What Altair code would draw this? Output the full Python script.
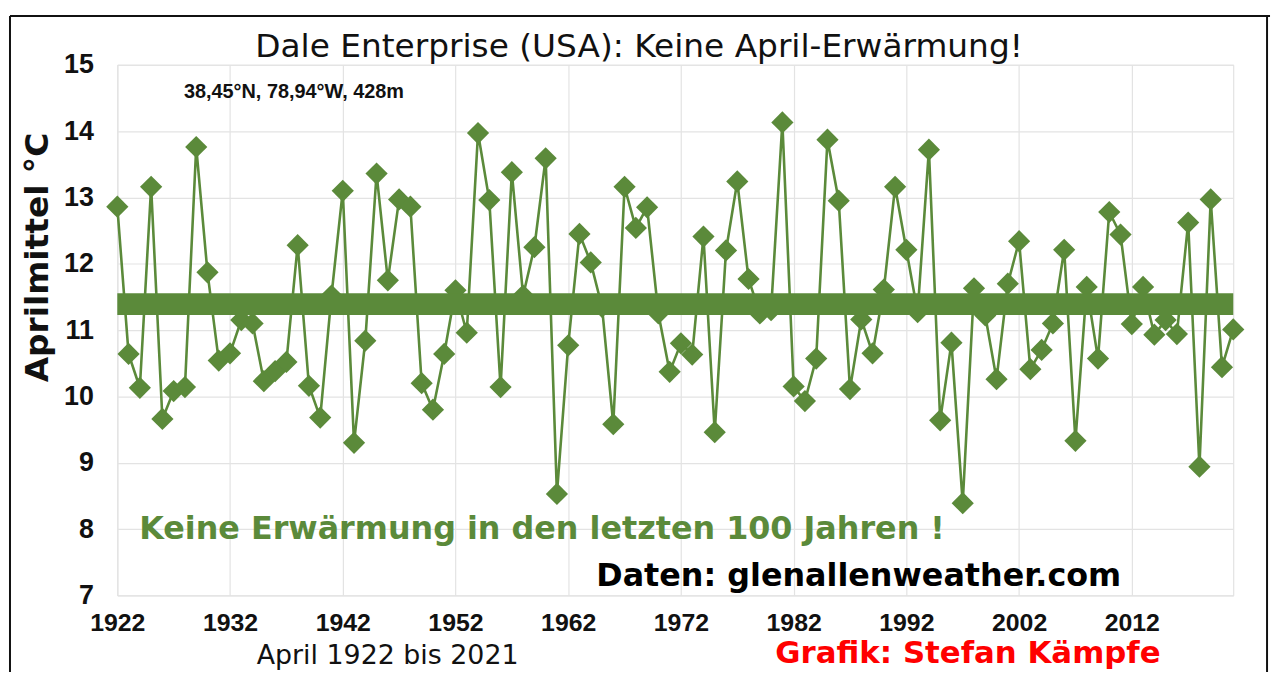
import altair as alt
import pandas as pd

years = list(range(1922, 2022))
temps = [
    12.86, 10.64, 10.13, 13.16, 9.66, 10.08, 10.14, 13.76, 11.87, 10.54,
    10.65, 11.15, 11.10, 10.23, 10.38, 10.52, 12.28, 10.16, 9.68, 11.52,
    13.10, 9.30, 10.84, 13.36, 11.75, 12.97, 12.86, 10.20, 9.80, 10.64,
    11.60, 10.96, 13.97, 12.96, 10.14, 13.38, 11.52, 12.25, 13.59, 8.53,
    10.77, 12.45, 12.02, 11.35, 9.58, 13.16, 12.54, 12.85, 11.25, 10.37,
    10.80, 10.63, 12.41, 9.46, 12.20, 13.24, 11.77, 11.25, 11.30, 14.13,
    10.15, 9.93, 10.57, 13.87, 12.95, 10.11, 11.16, 10.65, 11.61, 13.16,
    12.21, 11.27, 13.72, 9.64, 10.81, 8.39, 11.63, 11.22, 10.26, 11.70,
    12.34, 10.41, 10.70, 11.10, 12.21, 9.33, 11.65, 10.57, 12.78, 12.44,
    11.09, 11.65, 10.93, 11.15, 10.94, 12.62, 8.94, 12.97, 10.44, 11.01,
]
trend_years = [1922, 2021]
trend_vals = [11.39, 11.39]
x_ticks = [1922, 1932, 1942, 1952, 1962, 1972, 1982, 1992, 2002, 2012]
y_ticks = [7, 8, 9, 10, 11, 12, 13, 14, 15]

GREEN = "#5B8A3A"
FONT = "Liberation Sans"
WIDE = "DejaVu Sans"

df = pd.DataFrame({"year": years, "temp": temps})
tdf = pd.DataFrame({"year": trend_years, "temp": trend_vals})

xs = alt.Scale(domain=[1922, 2021], nice=False, zero=False)
ys = alt.Scale(domain=[7, 15], nice=False, zero=False)

xax = alt.Axis(values=x_ticks, format="d", title=None, labelFont=FONT, labelFontSize=25,
               labelFontWeight="bold", labelColor="#111", labelPadding=15, ticks=False,
               domain=False, grid=True, gridColor="#E3E3E3", gridWidth=1.2, labelFlush=False)
yax = alt.Axis(values=y_ticks, format="d", title=None, labelFont=FONT, labelFontSize=27,
               labelFontWeight="bold", labelColor="#111", labelPadding=24, ticks=False,
               domain=False, grid=True, gridColor="#E3E3E3", gridWidth=1.2)

line = alt.Chart(df).mark_line(color=GREEN, strokeWidth=2.6).encode(
    x=alt.X("year:Q", scale=xs, axis=xax),
    y=alt.Y("temp:Q", scale=ys, axis=yax),
)
pts = alt.Chart(df).mark_point(shape="diamond", filled=True, size=500, color=GREEN, opacity=1).encode(
    x=alt.X("year:Q", scale=xs),
    y=alt.Y("temp:Q", scale=ys),
)
trend = alt.Chart(tdf).mark_line(color=GREEN, strokeWidth=22, strokeCap="butt").encode(
    x=alt.X("year:Q", scale=xs),
    y=alt.Y("temp:Q", scale=ys),
)

def txt(s, x, y, size, color="#111", weight="bold", align="left", angle=0,
        font=FONT, baseline="middle"):
    kw = dict(text=s, font=font, fontSize=size, fontWeight=weight, color=color,
              align=align, baseline=baseline)
    if angle:
        kw["angle"] = angle
    return alt.Chart(pd.DataFrame({"a": [0]})).mark_text(**kw).encode(
        x=alt.value(x), y=alt.value(y))

texts = [
    txt("Dale Enterprise (USA): Keine April-Erwärmung!", 525, -18, 33, align="center",
        weight="normal", font=WIDE),
    txt("38,45°N, 78,94°W, 428m", 67, 27, 20),
    txt("Keine Erwärmung in den letzten 100 Jahren !", 22, 467, 32, color=GREEN, font=WIDE),
    txt("Daten: glenallenweather.com", 482, 515, 32, color="#000", font=WIDE),
    txt("Aprilmittel °C", -80, 194, 33, align="center", angle=270, font=WIDE),
    txt("April 1922 bis 2021", 272, 603, 27, align="center", weight="normal", font=WIDE,
        baseline="alphabetic"),
    txt("Grafik: Stefan Kämpfe", 856, 602, 31, color="#FF0000", align="center", font=WIDE,
        baseline="alphabetic"),
]

frame_top = alt.Chart(pd.DataFrame({"a": [0]})).mark_rule(color="#111", strokeWidth=2).encode(
    x=alt.value(-108), x2=alt.value(1160), y=alt.value(-49))
frame_left = alt.Chart(pd.DataFrame({"a": [0]})).mark_rule(color="#111", strokeWidth=2).encode(
    x=alt.value(-108), y=alt.value(-49), y2=alt.value(620))
frame_right = alt.Chart(pd.DataFrame({"a": [0]})).mark_rule(color="#111", strokeWidth=2).encode(
    x=alt.value(1157), y=alt.value(-49), y2=alt.value(620))

chart = alt.layer(line, pts, trend, *texts, frame_top, frame_left, frame_right).properties(
    width=1123, height=534,
    autosize=alt.AutoSizeParams(type="none"),
    padding={"left": 110, "top": 55, "right": 40, "bottom": 75},
).configure_view(stroke="#999", strokeWidth=1.5).configure(background="white")

chart.save("out.html", embed_options={"renderer": "svg", "actions": False})
